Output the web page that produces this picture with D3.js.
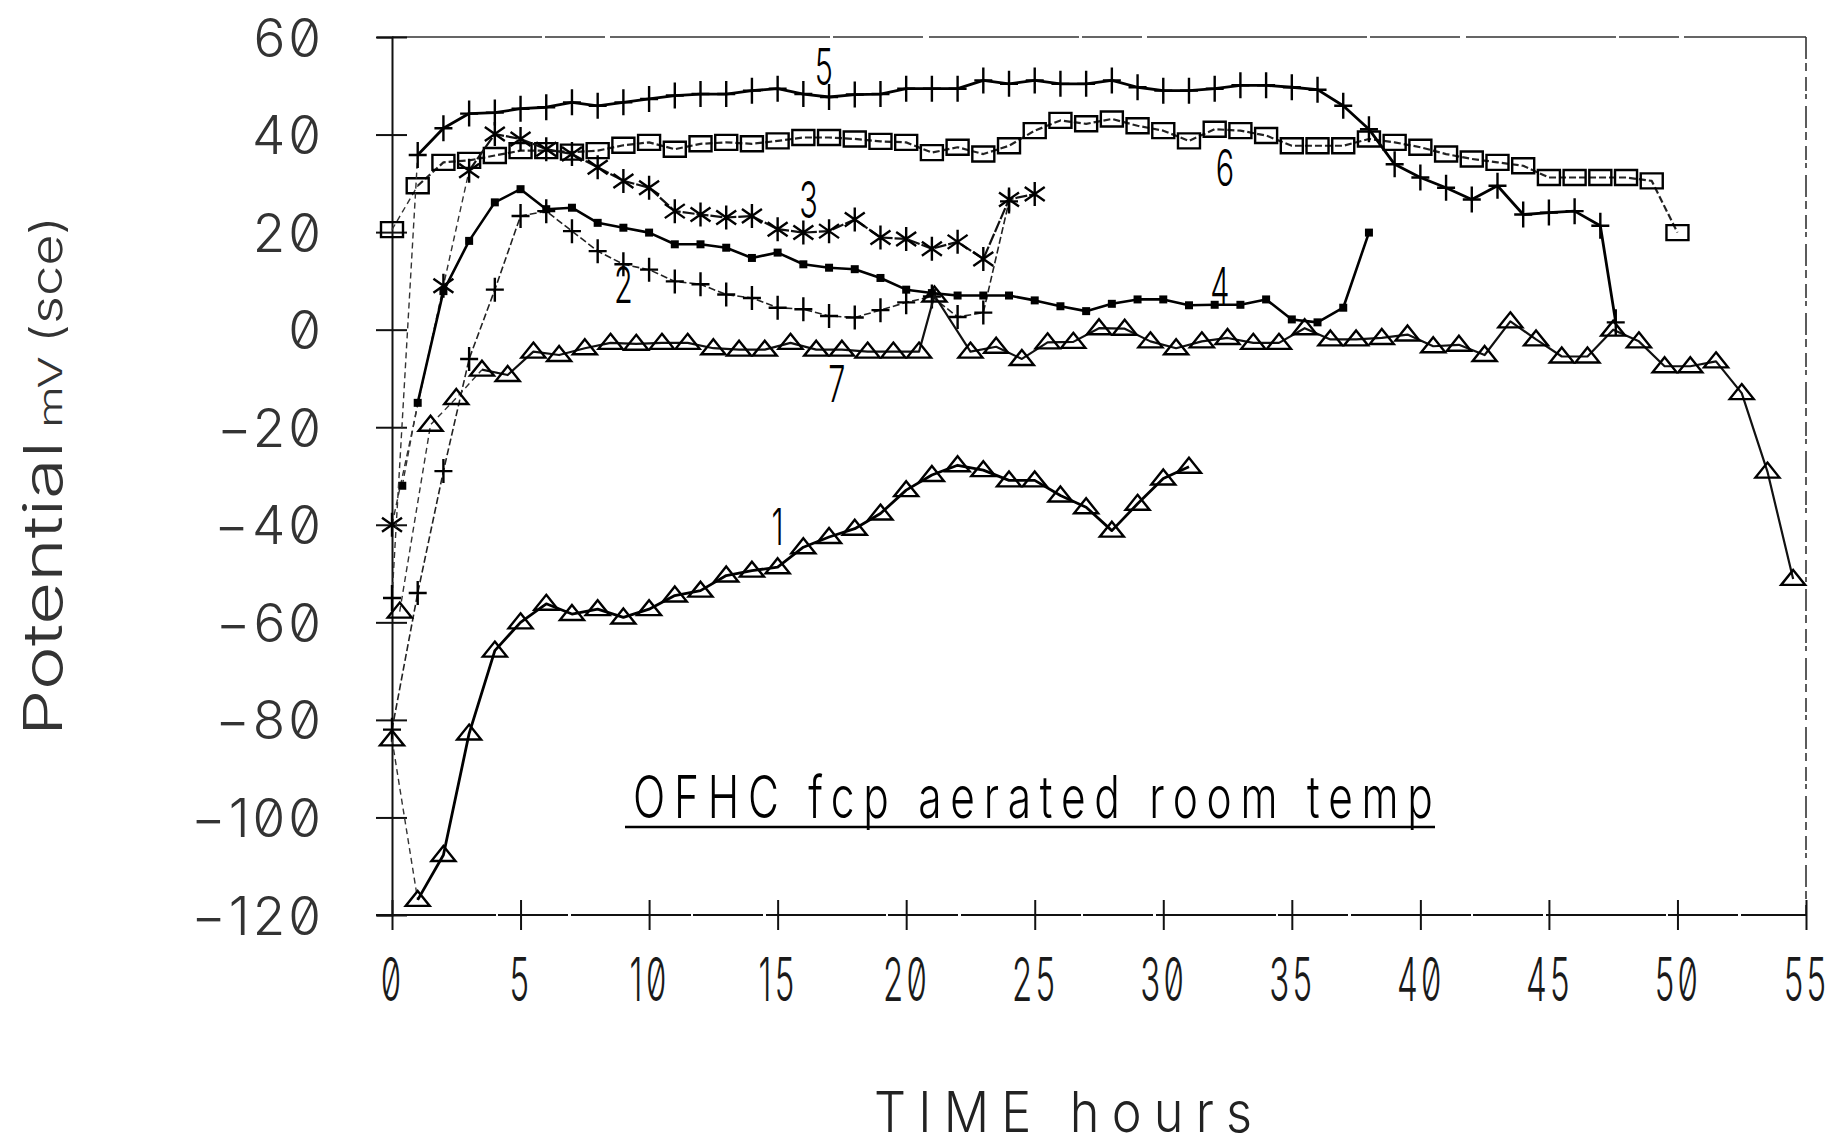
<!DOCTYPE html>
<html>
<head>
<meta charset="utf-8">
<title>OFHC fcp aerated room temp</title>
<script src="https://d3js.org/d3.v7.min.js"></script>
<style>
  body { margin: 0; background: #fff; }
  svg { display: block; }
  .plotter {
    font-family: Inter, "DejaVu Sans", sans-serif;
    font-weight: 300;
    fill: #1a1a1a;
    font-feature-settings: "zero" 1;
  }
  .axis path, .axis line { stroke: #111; stroke-width: 2; fill: none; }
</style>
</head>
<body>
<div id="chart"></div>
<script>
const width = 1847;
const height = 1146;
const margin = { top: 37, right: 41, bottom: 231, left: 392 };

// time (hours) and potential (mV sce)
const series1 = [[0,-84],[1,-116.9],[2,-107.7],[3,-82.8],[4,-65.8],[5,-60],[6,-56.2],[7,-58.3],[8,-57.3],[9,-59],[10,-57.3],[11,-54.5],[12,-53.5],[13,-50.4],[14,-49.4],[15,-48.7],[16,-44.6],[17,-42.5],[18,-40.8],[19,-37.7],[20,-32.9],[21,-29.8],[22,-27.8],[23,-28.8],[24,-30.9],[25,-30.9],[26,-34],[27,-36.4],[28,-41.2],[29,-35.7],[30,-30.5],[31,-28.1]];
const series2 = [[0,-82],[1,-54],[2,-29],[3,-6],[4,8.2],[5,23.3],[6,24.3],[7,20.2],[8,16.1],[9,13.4],[10,12.3],[11,9.9],[12,9.3],[13,7.2],[14,6.5],[15,4.5],[16,4.2],[17,2.8],[18,2.5],[19,4],[20,5.6],[21,6.8],[22,2.6],[23,3.5],[24,26.3]];
const series3 = [[0,-40],[2,9],[3,32.6],[4,40.1],[5,39.1],[6,37],[7,36],[8,33.3],[9,30.5],[10,29.1],[11,24.3],[12,23.6],[13,23],[14,23.3],[15,20.6],[16,19.9],[17,20.2],[18,22.6],[19,18.9],[20,18.6],[21,16.6],[22,18],[23,14.5],[24,26.7],[25,27.8]];
const series4 = [[0.4,-32],[1,-15],[2,7.9],[3,18.2],[4,26.1],[5,28.8],[6,24.7],[7,25],[8,21.9],[9,20.9],[10,19.9],[11,17.5],[12,17.5],[13,16.8],[14,14.7],[15,15.8],[16,13.4],[17,12.7],[18,12.4],[19,10.6],[20,8.2],[21,7.5],[22,7],[23,7],[24,7],[25,6],[26,4.8],[27,3.8],[28,5.3],[29,6.2],[30,6.2],[31,5],[32,5.1],[33,5.1],[34,6.2],[35,2.1],[36,1.5],[37,4.5],[38,19.9]];
const series5 = [[0,-55],[1,35.8],[2,41.3],[3,44.3],[4,44.5],[5,45.3],[6,45.6],[7,46.6],[8,45.9],[9,46.6],[10,47.3],[11,48],[12,48.3],[13,48.3],[14,49],[15,49.4],[16,48.3],[17,47.7],[18,48.2],[19,48.3],[20,49.4],[21,49.4],[22,49.4],[23,51.1],[24,50.4],[25,51.1],[26,50.4],[27,50.4],[28,51.1],[29,49.7],[30,49],[31,49],[32,49.4],[33,50.1],[34,50.1],[35,49.7],[36,49.2],[37,45.9],[38,41.1],[39,33.9],[40,31.2],[41,29.1],[42,26.7],[43,29.5],[44,23.6],[45,24],[46,24.3],[47,21.3],[47.6,1.5]];
const series6 = [[0,20.5],[1,29.5],[2,34.3],[3,34.7],[4,35.7],[5,36.7],[6,36.7],[7,36.4],[8,36.7],[9,37.8],[10,38.4],[11,37],[12,38.1],[13,38.4],[14,38.1],[15,38.7],[16,39.4],[17,39.4],[18,39.1],[19,38.6],[20,38.4],[21,36.3],[22,37.4],[23,36],[24,37.7],[25,40.8],[26,42.9],[27,42.2],[28,43.2],[29,41.8],[30,40.8],[31,38.7],[32,41.1],[33,40.8],[34,39.8],[35,37.7],[36,37.7],[37,37.7],[38,39.1],[39,38.4],[40,37.4],[41,36],[42,35],[43,34.3],[44,33.6],[45,31.2],[46,31.2],[47,31.2],[48,31.2],[49,30.5],[50,19.9]];
const series7 = [[0.3,-57.8],[1.5,-19.5],[2.5,-14],[3.5,-8.2],[4.5,-9.3],[5.5,-4.5],[6.5,-5.2],[7.5,-3.8],[8.5,-2.7],[9.5,-2.9],[10.5,-2.7],[11.5,-2.7],[12.5,-3.8],[13.5,-4.1],[14.5,-4.1],[15.5,-2.7],[16.5,-4.1],[17.5,-4.1],[18.5,-4.5],[19.5,-4.5],[20.5,-4.5],[21.1,7],[22.5,-4.5],[23.5,-3.5],[24.5,-6],[25.5,-2.6],[26.5,-2.5],[27.5,0.3],[28.5,0.2],[29.5,-2.4],[30.5,-3.8],[31.5,-2.4],[32.5,-1.7],[33.5,-2.7],[34.5,-2.7],[35.5,0.3],[36.5,-2],[37.5,-2],[38.5,-1.7],[39.5,-1],[40.5,-3.4],[41.5,-3.1],[42.5,-5.2],[43.5,1.7],[44.5,-2],[45.5,-5.5],[46.5,-5.5],[47.5,0],[48.5,-2.4],[49.5,-7.5],[50.5,-7.5],[51.5,-6.5],[52.5,-13],[53.5,-29.1],[54.5,-51.1]];

const xTicks = [0, 5, 10, 15, 20, 25, 30, 35, 40, 45, 50, 55];
const yTicks = [-120, -100, -80, -60, -40, -20, 0, 20, 40, 60];

// curve numbers written next to the traces (hours, mV)
const curveLabels = [["1", 15.0, -40.4], ["2", 9.0, 9.2], ["3", 16.2, 26.6], ["4", 32.2, 9.0], ["5", 16.8, 54.0], ["6", 32.4, 33.2], ["7", 17.3, -11.1]];

const x = d3.scaleLinear().domain([0, 55]).range([margin.left, width - margin.right]);
const y = d3.scaleLinear().domain([-120, 60]).range([height - margin.bottom, margin.top]);

const svg = d3.select("#chart")
  .append("svg")
  .attr("width", width)
  .attr("height", height);

// broken frame on top and right, like the plotter output
svg.append("line")
  .attr("x1", x(0)).attr("x2", x(55))
  .attr("y1", y(60)).attr("y2", y(60))
  .attr("stroke", "#333").attr("stroke-width", 1.6)
  .attr("stroke-dasharray", "150 3 60 5 220 3 90 6");
svg.append("line")
  .attr("x1", x(55)).attr("x2", x(55))
  .attr("y1", y(60)).attr("y2", y(-120))
  .attr("stroke", "#333").attr("stroke-width", 1.6)
  .attr("stroke-dasharray", "22 4 8 6 14 3 5 7");

// x axis
svg.append("line")
  .attr("x1", x(0) - 16).attr("x2", x(55))
  .attr("y1", y(-120)).attr("y2", y(-120))
  .attr("stroke", "#111").attr("stroke-width", 2)
  .attr("stroke-dasharray", "120 2 70 3");

const xAxis = svg.append("g")
  .attr("class", "axis")
  .attr("transform", `translate(0,${y(-120)})`)
  .call(d3.axisBottom(x).tickValues(xTicks).tickSizeOuter(0).tickSize(15).tickFormat(d3.format("d")));
xAxis.select(".domain").remove();
xAxis.selectAll(".tick line").attr("y1", -15).attr("y2", 15);
xAxis.selectAll(".tick text")
  .attr("class", "plotter")
  .attr("y", 0).attr("dy", null)
  .attr("text-anchor", "middle")
  .attr("transform", "translate(0,86) scale(0.55,1)")
  .style("font-size", "60px")
  .style("letter-spacing", "6px");

// y axis
const yAxis = svg.append("g")
  .attr("class", "axis")
  .attr("transform", `translate(${x(0)},0)`)
  .call(d3.axisLeft(y).tickValues(yTicks).tickSizeOuter(0).tickSize(15));
yAxis.selectAll(".tick line").attr("x1", 15).attr("x2", -16);
yAxis.selectAll(".tick text")
  .attr("class", "plotter")
  .attr("x", -68)
  .attr("dy", "0.36em")
  .style("font-size", "53px")
  .style("fill", "#333")
  .style("letter-spacing", "3px");

// series
const markerPath = {
  triangle: "M0,-9L12,6L-12,6Z",
  plus: "M0,-13V13M-9,0H9",
  plusSmall: "M0,-12V12M-9,0H9",
  asterisk: "M0,-12V12M-10,-7L10,7M-10,7L10,-7",
  square: "M-11,-7.5H11V7.5H-11Z",
  dot: "M-4,-4H4V4H-4Z"
};

const seriesList = [
  { data: series6, marker: "square", width: 2.2, dash: "7 3", color: "#222", lead: 1 },
  { data: series3, marker: "asterisk", width: 2.2, dash: "12 2", color: "#111", lead: 2 },
  { data: series2, marker: "plusSmall", width: 1.6, dash: "7 3", color: "#222", lead: 0 },
  { data: series4, marker: "dot", width: 2.6, dash: null, color: "#000", lead: 1 },
  { data: series7, marker: "triangle", width: 2.2, dash: null, color: "#111", lead: 3 },
  { data: series1, marker: "triangle", width: 2.8, dash: null, color: "#000", lead: 1 },
  { data: series5, marker: "plus", width: 2.8, dash: null, color: "#000", lead: 1 }
];

const line = d3.line().x(d => x(d[0])).y(d => y(d[1]));

seriesList.forEach(s => {
  if (s.lead > 0) {
    svg.append("path")
      .attr("d", line(s.data.slice(0, s.lead + 1)))
      .attr("fill", "none")
      .attr("stroke", "#333")
      .attr("stroke-width", 1.4)
      .attr("stroke-dasharray", "6 4");
  }
  svg.append("path")
    .attr("d", line(s.data.slice(s.lead)))
    .attr("fill", "none")
    .attr("stroke", s.color)
    .attr("stroke-width", s.width)
    .attr("stroke-dasharray", s.dash)
    .attr("stroke-linejoin", "round");

  const filled = s.marker === "dot";
  svg.append("g")
    .selectAll("path")
    .data(s.data)
    .enter()
    .append("path")
    .attr("transform", d => `translate(${x(d[0])},${y(d[1])})`)
    .attr("d", markerPath[s.marker])
    .attr("fill", filled ? "#000" : "none")
    .attr("stroke", "#000")
    .attr("stroke-width", filled ? 0 : 2.4)
    .attr("stroke-linejoin", "miter");
});

// curve numbers
svg.append("g")
  .selectAll("text")
  .data(curveLabels)
  .enter()
  .append("text")
  .attr("class", "plotter")
  .attr("text-anchor", "middle")
  .attr("dy", "0.36em")
  .attr("transform", d => `translate(${x(d[1])},${y(d[2])}) scale(0.6,1)`)
  .style("font-size", "51px")
  .style("fill", "#000")
  .text(d => d[0]);

// annotation: narrow plotter letters
svg.append("text")
  .attr("class", "plotter")
  .attr("transform", "translate(633,818) scale(0.72,1)")
  .attr("textLength", 1111)
  .attr("lengthAdjust", "spacing")
  .style("font-size", "59px")
  .style("fill", "#000")
  .text("OFHC fcp aerated room temp");
svg.append("line")
  .attr("x1", 625).attr("x2", 1435)
  .attr("y1", 827).attr("y2", 827)
  .attr("stroke", "#000").attr("stroke-width", 2.6);

// axis titles
svg.append("text")
  .attr("class", "plotter")
  .attr("transform", "translate(874,1132) scale(0.9,1)")
  .attr("textLength", 420)
  .attr("lengthAdjust", "spacing")
  .style("font-size", "56px")
  .style("fill", "#222")
  .text("TIME hours");

const yTitle = [["Potential", 736, 295, 54], ["mV", 428, 72, 32], ["(sce)", 343, 127, 44]];
svg.append("g")
  .selectAll("text")
  .data(yTitle)
  .enter()
  .append("text")
  .attr("class", "plotter")
  .attr("transform", d => `translate(62,${d[1]}) rotate(-90)`)
  .attr("textLength", d => d[2])
  .attr("lengthAdjust", "spacingAndGlyphs")
  .style("font-size", d => d[3] + "px")
  .style("fill", "#333")
  .text(d => d[0]);
</script>
</body>
</html>
